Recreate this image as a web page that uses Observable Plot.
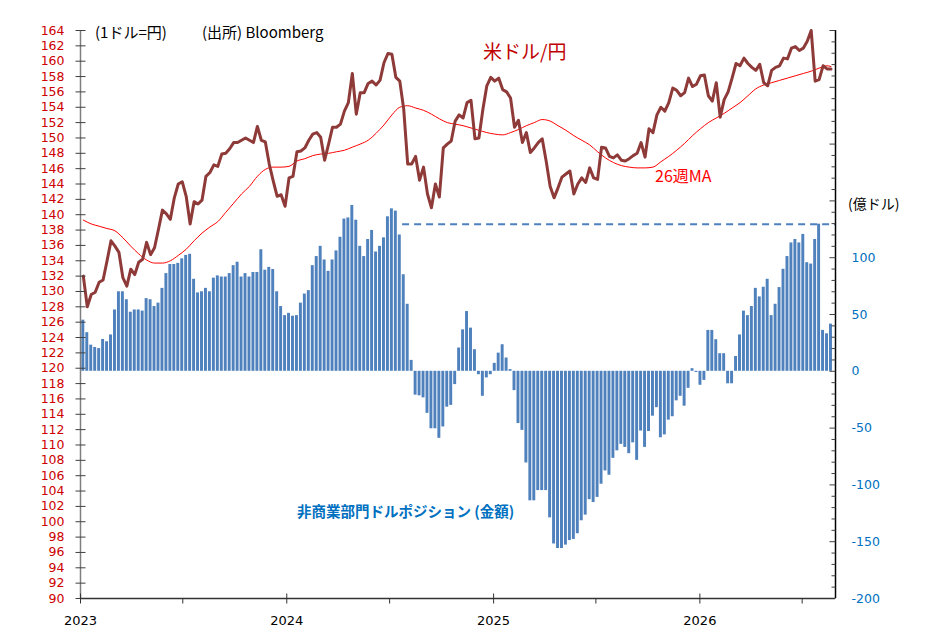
<!DOCTYPE html>
<html>
<head>
<meta charset="utf-8">
<script src="https://cdn.jsdelivr.net/npm/d3@7"></script>
<script src="https://cdn.jsdelivr.net/npm/@observablehq/plot@0.6"></script>
<style>
  body { margin: 0; background: #fff; }
  #wrap { position: relative; width: 945px; height: 635px; font-family: "Noto Sans CJK JP", "DejaVu Sans", sans-serif; }
  .lbl { position: absolute; white-space: nowrap; line-height: 1; }
</style>
</head>
<body>
<div id="wrap">
  <div id="chart"></div>
  <div class="lbl" style="left:95px;top:24px;font-size:15px;color:#000;">(1ドル=円)</div>
  <div class="lbl" style="left:202px;top:24px;font-size:15px;color:#000;">(出所) Bloomberg</div>
  <div class="lbl" style="left:483px;top:41px;font-size:19px;color:#c00000;">米ドル/円</div>
  <div class="lbl" style="left:655px;top:167px;font-size:16px;color:#ff0000;">26週MA</div>
  <div class="lbl" style="left:297px;top:504px;font-size:14.5px;color:#0070c0;font-weight:bold;">非商業部門ドルポジション (金額)</div>
  <div class="lbl" style="left:848px;top:196px;font-size:14px;color:#000;">(億ドル)</div>
</div>
<script>
// 週次データ (金曜日), 2023-01-06 から 190 週
const weeks = d3.range(190).map(i => new Date(Date.UTC(2023, 0, 6 + 7 * i)));

// 米ドル/円 (週末値)
const usdjpy = [
  132.0, 128.0, 129.6, 129.9, 131.2, 131.5, 134.0, 136.6, 135.9, 135.1,
  131.8, 130.7, 132.9, 132.2, 133.8, 134.2, 136.4, 134.8, 135.7, 138.1,
  140.6, 140.1, 139.4, 142.2, 144.0, 144.3, 142.4, 138.8, 141.7, 141.4,
  141.9, 145.0, 145.5, 146.5, 146.3, 147.9, 148.0, 148.6, 149.4, 149.4,
  149.7, 150.0, 149.7, 149.4, 151.5, 149.7, 149.5, 146.6, 144.4, 142.4,
  142.6, 141.1, 144.8, 145.0, 148.2, 148.3, 148.7, 149.7, 150.5, 150.7,
  150.1, 147.1, 149.2, 151.4, 151.4, 151.8, 153.5, 154.6, 158.4, 153.1,
  155.9, 155.9, 157.1, 157.4, 156.9, 157.5, 159.8, 161.0, 160.9, 157.9,
  157.4, 153.7, 146.6, 146.6, 147.6, 144.5, 146.2, 142.7, 140.9, 144.0,
  142.3, 148.7, 149.2, 149.6, 152.2, 153.0, 152.6, 154.6, 154.9, 149.9,
  150.0, 153.7, 156.8, 157.9, 157.4, 157.8, 156.3, 156.0, 155.2, 151.4,
  152.3, 149.4, 150.7, 148.1, 148.7, 149.4, 149.9, 147.0, 143.7, 142.2,
  143.5, 144.9, 145.3, 145.7, 142.7, 144.0, 144.8, 144.2, 146.1, 144.8,
  144.6, 148.8, 148.7, 147.6, 147.4, 147.8, 147.1, 147.0, 147.3, 147.7,
  148.0, 149.4, 147.5, 151.2, 150.7, 153.0, 154.0, 153.5, 154.6, 156.5,
  156.2, 155.5, 155.9, 157.8, 156.7, 157.0, 158.1, 158.2, 155.5, 154.8,
  157.2, 152.7, 155.0, 156.0, 157.8, 159.7, 159.4, 160.4, 159.7, 159.2,
  158.8, 159.6, 157.2, 156.8, 158.8, 159.2, 159.4, 160.4, 160.3, 161.7,
  161.9, 161.4, 161.7, 162.6, 164.0, 157.4, 157.6, 159.4, 159.0, 159.0
];

// 非商業部門ドルポジション (億ドル)
const netPosition = [
  45, 34, 23, 21, 20, 28, 26, 32, 54, 70,
  70, 63, 52, 54, 54, 53, 64, 63, 57, 60,
  73, 86, 94, 94, 95, 99, 102, 103, 81, 69,
  70, 73, 70, 82, 84, 83, 83, 86, 93, 96,
  83, 86, 83, 87, 87, 107, 89, 91.5, 89.6, 70,
  57, 49, 51, 48.5, 49, 60, 68, 71, 93, 101,
  110, 98, 88, 98, 106, 118, 134, 135, 146, 133,
  110, 101, 116, 124, 105, 110, 117.5, 136, 143, 141,
  120, 85, 59, 9.6, -21, -21.6, -23.4, -37, -50.6, -50.6,
  -59, -49, -31.6, -30, -11.7, 20.5, 36.5, 52.6, 38, 19,
  -3, -22, -5.8, -3, 7, 16, 23.4, 11.7, 1.5, -17,
  -46, -52, -80.7, -114, -114, -105, -105, -105, -129, -152,
  -156, -156, -153, -149, -148, -143, -131.6, -126.6, -113, -115.5,
  -111, -99.4, -87.7, -91.5, -76.6, -70, -64.3, -67, -72.5, -63,
  -78.4, -52.6, -67, -53, -39.5, -32, -58.5, -56, -43, -40,
  -26, -22, -30.7, -15, 2.3, -1, -12.3, -8, 36, 36,
  27.8, 15.5, 15.5, -11, -11, 13, 32, 53, 49, 57,
  73, 65.5, 74, 81, 49, 59, 73.7, 89.8, 101, 113,
  116, 113, 120.5, 95.6, 94.4, 116, 129.5, 36, 33, 41.5
];

// 26週移動平均 (2週ごとに読み取り)
const maWeek = [
  0, 2, 4, 6, 8, 10, 12, 14, 16, 18, 20, 22, 24, 26, 28, 30, 32, 34, 36, 38,
  40, 42, 44, 46, 48, 50, 52, 54, 56, 58, 60, 62, 64, 66, 68, 70, 72, 74, 76, 78,
  80, 82, 84, 86, 88, 90, 92, 94, 96, 98, 100, 102, 104, 106, 108, 110, 112, 114, 116, 118,
  120, 122, 124, 126, 128, 130, 132, 134, 136, 138, 140, 142, 144, 146, 148, 150, 152, 154, 156, 158,
  160, 162, 164, 166, 168, 170, 172, 174, 176, 178, 180, 182, 184, 186, 188, 189
];
const maValue = [
  139.3, 138.8, 138.5, 138.2, 137.9, 137.0, 135.9, 134.9, 134.1, 133.7,
  133.7, 134.0, 134.7, 135.5, 136.6, 137.6, 138.4, 139.1, 140.3, 141.5,
  142.7, 143.7, 145.0, 145.9, 146.2, 146.2, 146.3, 147.0, 147.3, 147.7,
  147.9, 148.0, 148.2, 148.4, 148.8, 149.2, 149.7, 150.6, 151.7, 153.0,
  154.0, 154.2, 153.9, 153.6, 153.1, 152.5, 152.0, 151.8, 151.6, 151.3,
  151.0, 150.7, 150.5, 150.4, 150.7, 151.1, 151.6, 152.0, 152.4, 152.2,
  151.6, 151.0, 150.3, 149.7, 149.1, 148.2, 147.4, 146.8, 146.4, 146.2,
  146.1, 146.1, 146.2, 146.9, 147.6, 148.4, 149.3, 150.3, 151.2, 152.0,
  152.6, 153.2, 153.9, 154.6, 155.5, 156.4, 156.9, 157.2, 157.5, 157.8,
  158.1, 158.4, 158.7, 159.1, 159.4, 159.3
];

// 軸
const leftTicks = d3.range(90, 165, 2);
const rightLabeled = [-200, -150, -100, -50, 0, 50, 100];
const rightMajor = d3.range(-200, 301, 50);
const rightMinor = d3.range(-200, 301, 10).filter(v => v % 50 !== 0);
const yearStarts = [2023, 2024, 2025, 2026].map(y => new Date(Date.UTC(y, 0, 1)));
const midYears = [2023, 2024, 2025, 2026].map(y => new Date(Date.UTC(y, 6, 1)));
const xStart = new Date(Date.UTC(2023, 0, 1));
const xEnd = new Date(Date.UTC(2026, 7, 29));

// 参照線 (直近ピーク水準)
const refLevel = 129.5;
const refFrom = new Date(Date.UTC(2024, 6, 24));

// 右軸 (億ドル) を左軸 (円) の座標へ
const toY = v => 90 + (v + 200) * 74 / 500;

const rows = weeks.map((date, i) => ({date, usdjpy: usdjpy[i], pos: netPosition[i]}));
const maRows = maWeek.map((w, i) => ({date: weeks[w], ma: maValue[i]}));
const day = 864e5;

// 目盛り線用の記号 (a..b ピクセル)
const hTick = (a, b) => ({draw(ctx) { ctx.moveTo(a, 0); ctx.lineTo(b, 0); }});
const vTick = (a, b) => ({draw(ctx) { ctx.moveTo(0, a); ctx.lineTo(0, b); }});

const chart = Plot.plot({
  width: 945,
  height: 635,
  marginLeft: 80,
  marginRight: 110,
  marginTop: 30,
  marginBottom: 37,
  style: {fontFamily: "DejaVu Sans, sans-serif", fontSize: "12px", background: "transparent", overflow: "visible"},
  x: {type: "utc", domain: [xStart, xEnd], axis: null},
  y: {domain: [90, 164], axis: null},
  marks: [
    Plot.rect(rows, {
      x1: d => new Date(+d.date - 2.6 * day),
      x2: d => new Date(+d.date + 2.6 * day),
      y1: toY(0),
      y2: d => toY(d.pos),
      fill: "#4f81bd"
    }),
    Plot.ruleY([toY(refLevel)], {x1: refFrom, x2: xEnd, stroke: "#4f81bd", strokeWidth: 2, strokeDasharray: "7,5"}),
    Plot.line(maRows, {x: "date", y: "ma", stroke: "#ff0000", strokeWidth: 1, curve: "monotone-x"}),
    Plot.line(rows, {x: "date", y: "usdjpy", stroke: "#8e3a38", strokeWidth: 3, strokeLinejoin: "round"}),

    // 左軸
    Plot.ruleX([xStart], {stroke: "#7f7f7f", strokeWidth: 1.5}),
    Plot.dot(leftTicks, {y: d => d, frameAnchor: "left", symbol: hTick(-5, 5), stroke: "#404040", fill: "none", strokeWidth: 1}),
    Plot.text(leftTicks, {y: d => d, text: d => String(d), frameAnchor: "left", textAnchor: "end", dx: -16, fill: "#cc0000", fontSize: 12.5}),

    // 右軸
    Plot.ruleX([xEnd], {stroke: "#000", strokeWidth: 1.5}),
    Plot.dot(rightMinor, {y: toY, frameAnchor: "right", symbol: hTick(-4, 0), stroke: "#404040", fill: "none", strokeWidth: 1}),
    Plot.dot(rightMajor, {y: toY, frameAnchor: "right", symbol: hTick(-6, 0), stroke: "#404040", fill: "none", strokeWidth: 1}),
    Plot.text(rightLabeled, {y: toY, text: d => String(d), frameAnchor: "right", textAnchor: "start", dx: 16, fill: "#0070c0", fontSize: 12.5}),

    // 下軸
    Plot.ruleY([90], {stroke: "#333", strokeWidth: 1.5}),
    Plot.dot(yearStarts, {x: d => d, frameAnchor: "bottom", symbol: vTick(-5, 5), stroke: "#333", fill: "none", strokeWidth: 1}),
    Plot.dot(midYears, {x: d => d, frameAnchor: "bottom", symbol: vTick(0, 5), stroke: "#333", fill: "none", strokeWidth: 1}),
    Plot.text(yearStarts, {x: d => d, text: d => d3.utcFormat("%Y")(d), frameAnchor: "bottom", dy: 26, fill: "#000", fontSize: 13})
  ]
});

d3.select('#chart').append(() => chart);
</script>
</body>
</html>
